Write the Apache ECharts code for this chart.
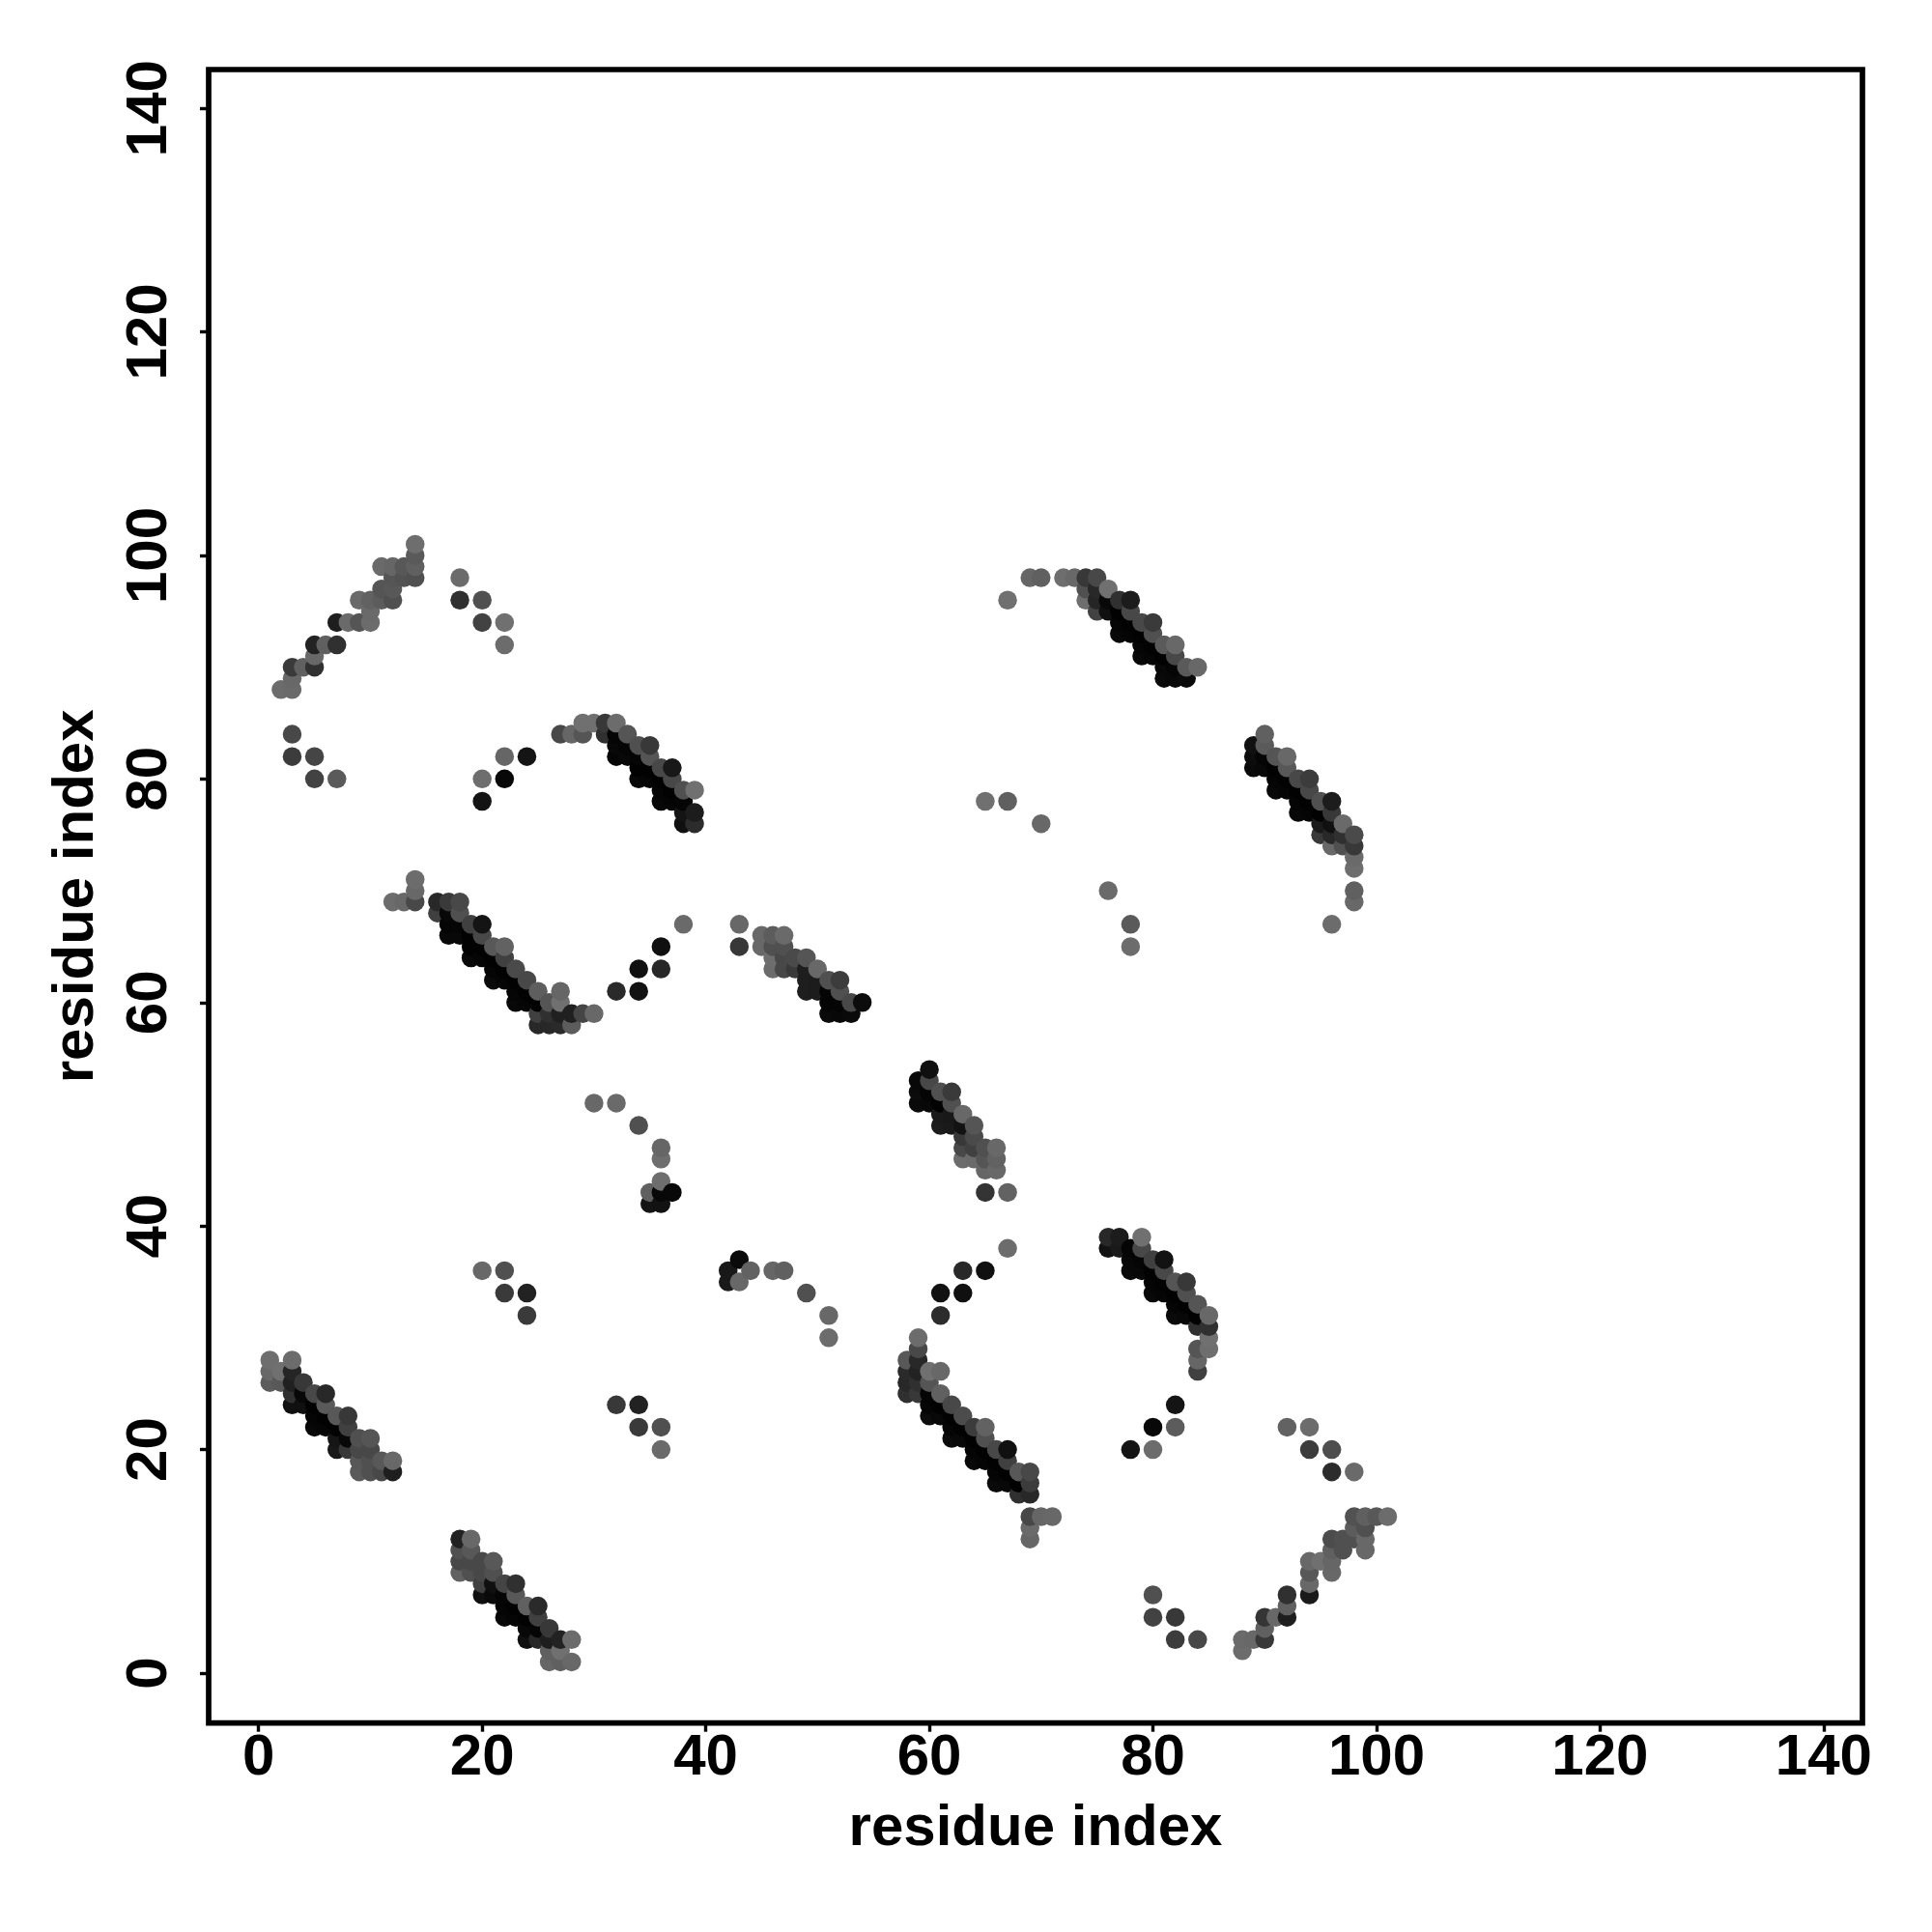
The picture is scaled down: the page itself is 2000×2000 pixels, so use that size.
<!DOCTYPE html>
<html>
<head>
<meta charset="utf-8">
<style>html,body{margin:0;padding:0;background:#fff}#c{width:2000px;height:2000px}</style>
<script src="https://cdn.jsdelivr.net/npm/echarts@6/dist/echarts.min.js"></script>
</head>
<body>
<div id="c"></div>
<script>
var tickValues = [0, 20, 40, 60, 80, 100, 120, 140];
var xLabel = 'residue index';
var yLabel = 'residue index';
// each entry: [residue x, residue y, grey level 0-255]
var armTopLeft = [[14,101,0x6e],[14,100,0x5a],[14,99,0x60],[14,98,0x50],[11,99,0x6a],[12,99,0x66],[13,99,0x58],[12,98,0x55],[13,98,0x52],[11,97,0x55],[12,97,0x58],[12,96,0x50],[9,96,0x6a],[10,96,0x62],[11,96,0x5c],[10,95,0x6a],[10,94,0x6c],[9,94,0x55],[8,94,0x6a],[7,94,0x1e],[7,92,0x30],[6,92,0x60],[5,92,0x22],[5,91,0x68],[5,90,0x30],[4,90,0x60],[3,90,0x3a],[3,89,0x68],[3,88,0x6a],[2,88,0x6c]];
var sparseTopLeft = [[3,84,0x48],[3,82,0x3c],[5,82,0x45],[5,80,0x42],[7,80,0x5a],[18,98,0x6c],[18,96,0x30],[20,96,0x50],[20,94,0x42],[22,94,0x70],[22,92,0x6c],[22,82,0x66],[24,82,0x14],[20,80,0x6e],[22,80,0x08],[20,78,0x14]];
var sheetB = [[27,84,0x48],[28,84,0x66],[29,84,0x55],[29,85,0x70],[30,85,0x70],[31,85,0x38],[32,85,0x6c],[31,84,0x30],[32,84,0x05],[33,84,0x55],[32,83,0x08],[33,83,0x05],[34,83,0x50],[35,83,0x38],[32,82,0x05],[33,82,0x08],[34,82,0x05],[35,82,0x55],[34,81,0x02],[35,81,0x02],[36,81,0x48],[37,81,0x18],[34,80,0x08],[35,80,0x05],[36,80,0x02],[37,80,0x48],[36,79,0x05],[37,79,0x02],[38,79,0x50],[39,79,0x70],[36,78,0x08],[37,78,0x05],[38,78,0x05],[38,77,0x14],[39,77,0x1c],[38,76,0x10],[39,76,0x2c]];
var sheetC = [[14,71,0x6c],[14,70,0x68],[14,69,0x48],[12,69,0x6c],[13,69,0x68],[16,69,0x28],[17,69,0x3a],[18,69,0x48],[16,68,0x40],[17,68,0x08],[18,68,0x50],[17,67,0x05],[18,67,0x05],[19,67,0x40],[20,67,0x14],[17,66,0x08],[18,66,0x08],[19,66,0x02],[20,66,0x48],[19,65,0x02],[20,65,0x02],[21,65,0x58],[22,65,0x62],[19,64,0x08],[20,64,0x05],[21,64,0x02],[22,64,0x40],[21,63,0x05],[22,63,0x02],[23,63,0x4a],[21,62,0x0a],[22,62,0x05],[23,62,0x02],[24,62,0x48],[23,61,0x05],[24,61,0x02],[25,61,0x5e],[27,61,0x66],[23,60,0x08],[24,60,0x05],[25,60,0x02],[26,60,0x55],[27,60,0x70],[25,59,0x40],[26,59,0x30],[27,59,0x20],[28,59,0x20],[29,59,0x45],[30,59,0x68],[25,58,0x28],[26,58,0x28],[27,58,0x2a],[28,58,0x5c]];
var sparseMid = [[32,61,0x2a],[34,61,0x12],[34,63,0x10],[36,63,0x28],[36,65,0x10],[38,67,0x6a],[43,67,0x68],[43,65,0x38],[30,51,0x68],[32,51,0x6a],[34,49,0x50],[36,47,0x66],[36,46,0x6e],[36,44,0x6e],[35,43,0x60],[36,43,0x08],[37,43,0x08],[35,42,0x14],[36,42,0x12]];
var sheetD = [[45,66,0x68],[46,66,0x5c],[47,66,0x6a],[45,65,0x68],[46,65,0x50],[47,65,0x50],[46,64,0x6e],[47,64,0x48],[48,64,0x4a],[49,64,0x55],[46,63,0x6c],[47,63,0x48],[48,63,0x3a],[49,63,0x1e],[50,63,0x68],[49,62,0x1e],[50,62,0x1c],[51,62,0x50],[52,62,0x3c],[49,61,0x1e],[50,61,0x1c],[51,61,0x05],[52,61,0x50],[51,60,0x05],[52,60,0x05],[53,60,0x48],[54,60,0x0c],[51,59,0x0a],[52,59,0x08],[53,59,0x0a]];
var sheetE = [[67,96,0x70],[69,98,0x66],[70,98,0x60],[72,98,0x6e],[73,98,0x68],[74,98,0x38],[75,98,0x48],[74,97,0x50],[75,97,0x28],[76,97,0x70],[74,96,0x6e],[75,96,0x25],[76,96,0x08],[77,96,0x30],[78,96,0x1c],[75,95,0x42],[76,95,0x10],[77,95,0x02],[78,95,0x48],[77,94,0x05],[78,94,0x02],[79,94,0x48],[80,94,0x3a],[77,93,0x08],[78,93,0x05],[79,93,0x02],[80,93,0x50],[79,92,0x05],[80,92,0x02],[81,92,0x5a],[82,92,0x68],[79,91,0x08],[80,91,0x05],[81,91,0x02],[82,91,0x48],[81,90,0x08],[82,90,0x05],[83,90,0x5a],[84,90,0x68],[81,89,0x0a],[82,89,0x08],[83,89,0x0a]];
var sheetF = [[90,84,0x60],[89,83,0x10],[90,83,0x5a],[89,82,0x0c],[90,82,0x05],[91,82,0x55],[92,82,0x68],[89,81,0x0a],[90,81,0x08],[91,81,0x02],[92,81,0x58],[91,80,0x05],[92,80,0x02],[93,80,0x48],[94,80,0x3c],[91,79,0x08],[92,79,0x05],[93,79,0x02],[94,79,0x48],[93,78,0x05],[94,78,0x02],[95,78,0x50],[96,78,0x1c],[93,77,0x08],[94,77,0x05],[95,77,0x02],[96,77,0x38],[95,76,0x1a],[96,76,0x10],[97,76,0x6a],[95,75,0x38],[96,75,0x28],[97,75,0x30],[98,75,0x4a],[96,74,0x68],[97,74,0x50],[98,74,0x38],[98,73,0x6a],[98,72,0x6e],[98,70,0x60],[98,69,0x68],[96,67,0x6c]];
var sparseRight = [[65,78,0x70],[67,78,0x60],[70,76,0x68],[76,70,0x6a],[78,67,0x5a],[78,65,0x6c]];
var sheetG = [[60,54,0x10],[59,53,0x08],[60,53,0x48],[59,52,0x0c],[60,52,0x05],[61,52,0x50],[62,52,0x3a],[59,51,0x0a],[60,51,0x08],[61,51,0x02],[62,51,0x50],[61,50,0x1a],[62,50,0x18],[63,50,0x68],[61,49,0x1c],[62,49,0x1a],[63,49,0x12],[64,49,0x55],[63,48,0x38],[64,48,0x4a],[63,47,0x48],[64,47,0x40],[65,47,0x50],[66,47,0x68],[63,46,0x6c],[64,46,0x6a],[65,46,0x55],[66,46,0x62],[65,45,0x66],[66,45,0x68],[65,43,0x34],[67,43,0x62]];
var sparseLow = [[67,38,0x6c],[65,36,0x10],[63,36,0x28],[63,34,0x10],[61,34,0x12],[61,32,0x2c],[82,24,0x14],[80,22,0x08],[82,22,0x5c],[78,20,0x14],[80,20,0x6c],[92,22,0x62],[94,22,0x6c],[94,20,0x3c],[96,20,0x4e],[96,18,0x2c],[98,18,0x6a],[80,7,0x50],[80,5,0x42],[82,5,0x38],[82,3,0x3c],[84,3,0x48],[20,36,0x68],[22,36,0x50],[22,34,0x3a],[24,34,0x22],[24,32,0x3a],[32,24,0x38],[34,24,0x22],[34,22,0x3a],[36,22,0x50],[36,20,0x6a],[42,36,0x18],[43,37,0x0a],[42,35,0x1a],[43,35,0x68],[44,36,0x62],[46,36,0x66],[47,36,0x60],[49,34,0x50],[51,32,0x68],[51,30,0x6c]];
var sheetH = [[76,39,0x28],[77,39,0x1c],[79,39,0x70],[76,38,0x12],[77,38,0x1a],[78,38,0x05],[79,38,0x48],[78,37,0x08],[79,37,0x05],[80,37,0x40],[81,37,0x12],[78,36,0x0a],[79,36,0x08],[80,36,0x02],[81,36,0x48],[80,35,0x05],[81,35,0x02],[82,35,0x55],[83,35,0x38],[80,34,0x08],[81,34,0x05],[82,34,0x02],[83,34,0x50],[82,33,0x05],[83,33,0x02],[84,33,0x55],[82,32,0x0a],[83,32,0x08],[84,32,0x02],[85,32,0x68],[84,31,0x30],[85,31,0x30],[85,30,0x70],[85,29,0x6e],[84,29,0x55],[84,28,0x66],[84,27,0x40]];
var sheetI = [[59,30,0x6c],[59,29,0x48],[58,28,0x58],[59,28,0x28],[58,27,0x2a],[59,27,0x22],[60,27,0x70],[61,27,0x68],[58,26,0x28],[59,26,0x30],[60,26,0x55],[58,25,0x30],[59,25,0x38],[60,25,0x05],[61,25,0x60],[60,24,0x05],[61,24,0x02],[62,24,0x48],[60,23,0x0c],[61,23,0x08],[62,23,0x02],[63,23,0x4c],[62,22,0x05],[63,22,0x02],[64,22,0x3c],[65,22,0x62],[62,21,0x0a],[63,21,0x08],[64,21,0x02],[65,21,0x50],[64,20,0x05],[65,20,0x02],[66,20,0x48],[67,20,0x10],[64,19,0x08],[65,19,0x05],[66,19,0x02],[67,19,0x40],[66,18,0x05],[67,18,0x02],[68,18,0x58],[69,18,0x48],[66,17,0x0a],[67,17,0x08],[68,17,0x02],[69,17,0x3c],[68,16,0x30],[69,16,0x28],[69,14,0x48],[70,14,0x66],[71,14,0x68],[69,13,0x6a],[69,12,0x66]];
var armJ = [[101,14,0x6c],[100,14,0x58],[99,14,0x60],[98,14,0x52],[98,13,0x5c],[99,13,0x50],[99,12,0x68],[98,12,0x50],[97,12,0x50],[96,12,0x4c],[99,11,0x68],[97,11,0x50],[96,11,0x60],[96,10,0x66],[95,10,0x70],[94,10,0x68],[96,9,0x68],[94,9,0x58],[94,8,0x68],[94,7,0x1a],[92,7,0x30],[92,6,0x60],[92,5,0x1e],[91,5,0x68],[90,5,0x35],[90,4,0x60],[90,3,0x38],[89,3,0x68],[88,3,0x6a],[88,2,0x6c]];
var sheetK = [[1,28,0x6e],[3,28,0x6c],[1,27,0x68],[2,27,0x70],[3,27,0x25],[1,26,0x5c],[2,26,0x58],[3,26,0x20],[4,26,0x38],[3,25,0x30],[4,25,0x08],[5,25,0x48],[6,25,0x28],[3,24,0x10],[4,24,0x10],[5,24,0x02],[6,24,0x5a],[5,23,0x05],[6,23,0x02],[7,23,0x58],[8,23,0x38],[5,22,0x08],[6,22,0x05],[7,22,0x02],[8,22,0x40],[7,21,0x15],[8,21,0x08],[9,21,0x50],[10,21,0x55],[7,20,0x18],[8,20,0x38],[9,20,0x48],[10,20,0x48],[9,19,0x58],[10,19,0x50],[11,19,0x58],[12,19,0x68],[9,18,0x5a],[10,18,0x50],[11,18,0x48],[12,18,0x1e]];
var sheetL = [[18,12,0x22],[19,12,0x68],[18,11,0x50],[19,11,0x58],[18,10,0x48],[19,10,0x48],[20,10,0x48],[21,10,0x58],[18,9,0x62],[19,9,0x50],[20,9,0x48],[21,9,0x50],[20,8,0x40],[21,8,0x10],[22,8,0x45],[23,8,0x30],[20,7,0x10],[21,7,0x0a],[22,7,0x05],[23,7,0x58],[22,6,0x05],[23,6,0x02],[24,6,0x60],[25,6,0x2a],[22,5,0x08],[23,5,0x05],[24,5,0x02],[25,5,0x40],[24,4,0x08],[25,4,0x05],[26,4,0x38],[24,3,0x10],[25,3,0x28],[26,3,0x1e],[27,3,0x22],[28,3,0x6c],[26,2,0x60],[27,2,0x70],[26,1,0x66],[27,1,0x60],[28,1,0x68]];

var points = [].concat(armTopLeft, sparseTopLeft, sheetB, sheetC, sparseMid, sheetD, sheetE, sheetF,
  sparseRight, sheetG, sparseLow, sheetH, sheetI, armJ, sheetK, sheetL);
// later columns and higher rows are painted over earlier ones
points.sort(function (a, b) { return a[0] - b[0] || a[1] - b[1]; });

var font = '"Liberation Sans", Arial, sans-serif';
function axis(name, nameGap, labelMargin, rotate) {
  return {
    type: 'value', min: -4.47, max: 143.47, name: name, nameLocation: 'middle', nameGap: nameGap,
    nameTextStyle: { fontFamily: font, fontWeight: 'bold', fontSize: 60, color: '#000' },
    splitLine: { show: false },
    axisLine: { show: false, onZero: false },
    axisTick: { show: true, length: 9, inside: false, customValues: tickValues, lineStyle: { color: '#000', width: 3.4 } },
    axisLabel: { show: true, customValues: tickValues, margin: labelMargin, rotate: rotate, fontFamily: font, fontWeight: 'bold', fontSize: 60, color: '#000' }
  };
}
var chart = echarts.init(document.getElementById('c'), null, { renderer: 'canvas' });
chart.setOption({
  animation: false,
  backgroundColor: '#fff',
  grid: { left: 216, top: 72, width: 1712, height: 1711.7, show: true, borderColor: '#000', borderWidth: 5.7, backgroundColor: 'transparent' },
  xAxis: axis(xLabel, 80, 7, 0),
  yAxis: axis(yLabel, 107, 31, 90),
  series: [{
    type: 'scatter',
    symbol: 'circle',
    symbolSize: 19.5,
    data: points.map(function (p) {
      return { value: [p[0], p[1]], itemStyle: { color: 'rgb(' + p[2] + ',' + p[2] + ',' + p[2] + ')', opacity: 1 } };
    })
  }]
});
</script>
</body>
</html>
